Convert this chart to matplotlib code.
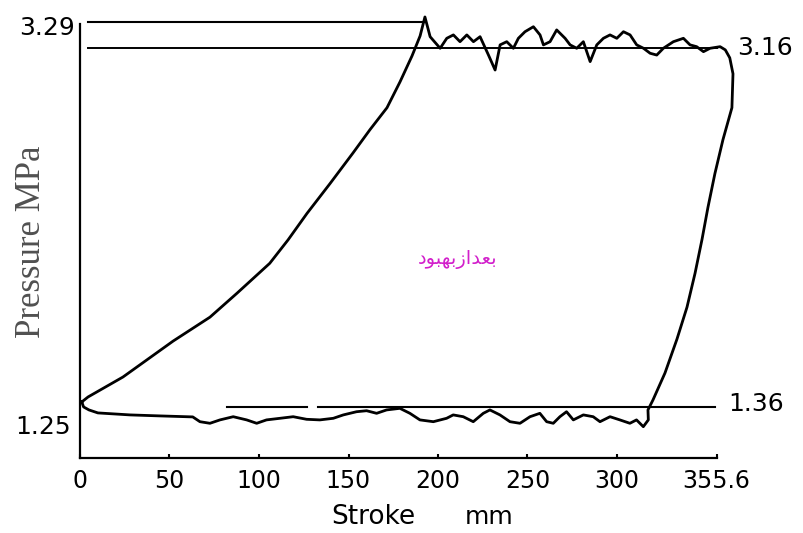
import matplotlib
matplotlib.use('Agg')
import matplotlib.pyplot as plt

# stroke (mm) / pressure (MPa)
rise_s = [1, 4.5, 24, 52, 72.6, 87.7, 106, 116.2, 126.8, 139.7, 152.5, 162, 171.5, 178.8,
          185.5, 190, 192.7]
rise_p = [1.385, 1.41, 1.51, 1.69, 1.81, 1.93, 2.08, 2.197, 2.33, 2.48, 2.633, 2.75, 2.86, 2.99,
          3.12, 3.22, 3.315]

top_s = [195.6, 201.2, 204.9, 208.6, 212.3, 216.1, 219.8, 223.5, 228.2, 231.9, 234.7, 238.4,
         242.1, 244.9, 248.6, 253.3, 257.0, 258.9, 262.6, 266.3, 271.0, 273.8, 277.5, 281.2,
         285.0, 288.7, 292.4, 296.1, 299.9, 303.6, 307.3, 311.0, 314.8, 318.5, 322.2, 325.9,
         331.5, 337.1, 340.8, 344.5, 348.3, 352.0, 357.6, 360.5]
top_p = [3.216, 3.158, 3.208, 3.225, 3.191, 3.225, 3.191, 3.216, 3.124, 3.049, 3.175, 3.191,
         3.158, 3.208, 3.241, 3.266, 3.225, 3.175, 3.191, 3.250, 3.208, 3.175, 3.158, 3.191,
         3.091, 3.175, 3.208, 3.225, 3.208, 3.241, 3.225, 3.175, 3.158, 3.133, 3.124, 3.158,
         3.191, 3.208, 3.175, 3.166, 3.141, 3.158, 3.166, 3.15]

right_s = [363.0, 364.8, 364.2, 359.2, 354.7, 350.8, 347.5, 343.6, 339.1, 333.5, 326.8, 320.1, 317.3]
right_p = [3.11, 3.03, 2.86, 2.70, 2.53, 2.36, 2.20, 2.03, 1.86, 1.70, 1.53, 1.395, 1.345]

bottom_s = [317.5, 314.7, 310.9, 307.2, 301.6, 296.1, 290.5, 286.7, 281.2, 275.6, 271.8, 268.1,
            264.4, 260.7, 256.9, 251.4, 245.8, 240.2, 234.6, 229.0, 225.3, 219.7, 214.1, 208.5,
            204.8, 197.4, 189.9, 184.3, 178.7, 171.3, 165.7, 160.1, 154.5, 147.1, 141.5, 134.0,
            126.6, 119.1, 111.7, 104.2, 98.7, 93.1, 85.6, 78.2, 72.6, 67.0, 63, 44.7, 28, 10, 5, 2, 1]
bottom_p = [1.295, 1.261, 1.295, 1.278, 1.295, 1.311, 1.286, 1.311, 1.320, 1.295, 1.336, 1.311,
            1.278, 1.286, 1.328, 1.311, 1.278, 1.286, 1.320, 1.345, 1.328, 1.286, 1.311, 1.320,
            1.303, 1.286, 1.295, 1.328, 1.353, 1.345, 1.328, 1.341, 1.336, 1.320, 1.303, 1.295,
            1.298, 1.311, 1.303, 1.295, 1.278, 1.295, 1.311, 1.295, 1.278, 1.286, 1.31, 1.315,
            1.32, 1.33, 1.345, 1.36, 1.385]

xtick_vals = [0, 50, 100, 150, 200, 250, 300, 355.6]
xtick_labels = ['0', '50', '100', '150', '200', '250', '300', '355.6']

p_max, p_top, p_low, p_min = 3.29, 3.16, 1.36, 1.25
note = 'بعدازبهبود'

# DejaVu has the Arabic presentation forms, matplotlib does no shaping itself
FORMS = {  # isolated, final, initial, medial
    'ب': ('\ufe8f', '\ufe90', '\ufe91', '\ufe92'),
    'ع': ('\ufec9', '\ufeca', '\ufecb', '\ufecc'),
    'ه': ('\ufee9', '\ufeea', '\ufeeb', '\ufeec'),
    'د': ('\ufea9', '\ufeaa', None, None),
    'ا': ('\ufe8d', '\ufe8e', None, None),
    'ز': ('\ufeaf', '\ufeb0', None, None),
    'و': ('\ufeed', '\ufeee', None, None),
}


def shape(word):
    out = []
    for i, ch in enumerate(word):
        f = FORMS[ch]
        prev_j = i > 0 and FORMS[word[i - 1]][2] is not None
        next_j = i < len(word) - 1 and f[2] is not None
        if prev_j and next_j:
            out.append(f[3])
        elif prev_j:
            out.append(f[1])
        elif next_j:
            out.append(f[2])
        else:
            out.append(f[0])
    return ''.join(reversed(out))


fig = plt.figure(figsize=(8.04, 5.33), dpi=100)
ax = fig.add_axes([80 / 804, 75 / 533, 716 / 804, 458 / 533])
ax.set_xlim(0, 400)
ax.set_ylim(1.104, 3.40)

loop_s = rise_s + top_s + right_s + bottom_s
loop_p = rise_p + top_p + right_p + bottom_p
ax.plot(loop_s, loop_p, color='black', lw=2.0, solid_joinstyle='round')

# reference levels
ax.plot([4.5, 192.5], [p_max, p_max], color='black', lw=1.5)
ax.plot([4.5, 355.6], [p_top, p_top], color='black', lw=1.4)
ax.plot([82, 127], [p_low, p_low], color='black', lw=1.5)
ax.plot([133, 355], [p_low, p_low], color='black', lw=1.5)

for side in ['top', 'right']:
    ax.spines[side].set_visible(False)
ax.spines['bottom'].set_bounds(0, 355.6)
ax.spines['left'].set_bounds(1.104, 3.28)
for side in ['bottom', 'left']:
    ax.spines[side].set_linewidth(1.6)

ax.set_xticks(xtick_vals)
ax.set_xticklabels(xtick_labels, fontsize=17, family='DejaVu Sans')
ax.tick_params(axis='x', direction='in', length=3, width=1.5, pad=8)
ax.set_yticks([])

ax.text(-2.8, 3.26, f'{p_max:.2f}', ha='right', va='center', fontsize=18)
ax.text(-5, 1.26, f'{p_min:.2f}', ha='right', va='center', fontsize=18)
ax.text(367, p_top, f'{p_top:.2f}', ha='left', va='center', fontsize=18)
ax.text(362, 1.375, f'{p_low:.2f}', ha='left', va='center', fontsize=18)

ax.text(211, 2.10, shape(note), ha='center', va='center', fontsize=14,
        color='#d21fcb', family='DejaVu Sans')

fig.text(373 / 804, 1 - 517 / 533, 'Stroke', ha='center', va='center', fontsize=19)
fig.text(489 / 804, 1 - 517 / 533, 'mm', ha='center', va='center', fontsize=18)
fig.text(32 / 804, 1 - 242 / 533, 'Pressure MPa', rotation=90, ha='center', va='center',
         fontsize=25, family='Liberation Serif', color='#505050')

fig.savefig('out.png', dpi=100)
